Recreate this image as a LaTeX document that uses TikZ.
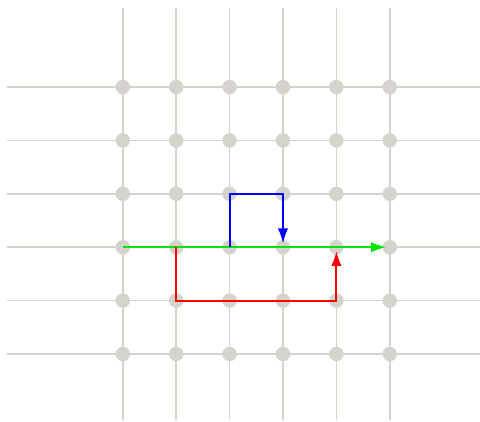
\documentclass[tikz,border=0pt]{standalone}
\usetikzlibrary{arrows.meta}
\definecolor{gridgrey}{RGB}{214,211,205}
\definecolor{pathgreen}{RGB}{0,230,0}
\begin{document}
\begin{tikzpicture}[
  gridline/.style={draw=gridgrey, line width=0.9pt},
  dot/.style={circle, fill=gridgrey, inner sep=0pt, minimum size=0.27cm},
  route/.style={line width=1pt, -{Latex[length=8pt,width=5.5pt]}, shorten >=2pt}
]
\useasboundingbox (-2.30,-1.27) rectangle (6.69,6.63);
% grid lines
\foreach \i in {0,...,5} {
  \draw [gridline] (\i,-1.24) to (\i,6.48);
  \draw [gridline] (-2.17,\i) to (6.69,\i);
}
% dots at the crossings
\foreach \i in {0,...,5}
  \foreach \j in {0,...,5}
    \node [dot] (d\i\j) at (\i,\j) {};
% routes
\draw [route, pathgreen] (d02.center) to (d52.center);
\draw [route, blue] (d22.center) -- (d23.center) -- (d33.center) -- (d32.center);
\draw [route, red] (d12.center) -- (d11.center) -- (d41.center) -- (d42.center);
\end{tikzpicture}
\end{document}
